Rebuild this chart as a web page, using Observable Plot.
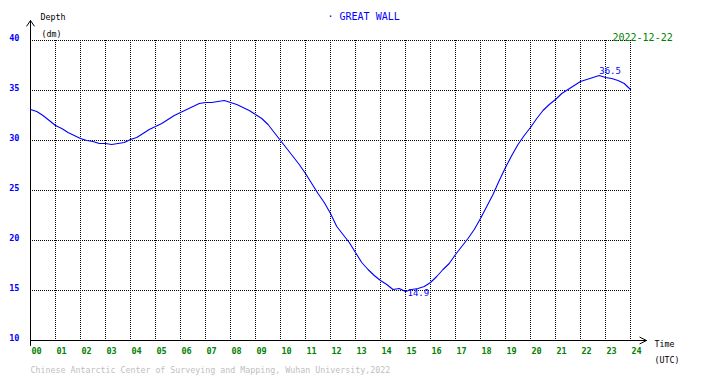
<!DOCTYPE html>
<html><head><meta charset="utf-8">
<script src="https://cdn.jsdelivr.net/npm/d3@7"></script>
<script src="https://cdn.jsdelivr.net/npm/@observablehq/plot@0.6"></script>
<style>
html,body{margin:0;padding:0;background:#fff;}
</style></head><body><div id="chart"></div>
<script>
const station = "· GREAT WALL";
const dateLabel = "2022-12-22";
const credit = "Chinese Antarctic Center of Surveying and Mapping, Wuhan University,2022";
const yAxisTitle = ["Depth", "(dm)"];
const xAxisTitle = ["Time", "(UTC)"];
const stepHours = 0.25;
// tide depth (dm), one reading every 15 minutes from 00:00 to 24:00 UTC
const depth = [
  33.1, 32.9, 32.5, 32.0, 31.5, 31.2, 30.8, 30.5,
  30.2, 30.0, 29.9, 29.7, 29.7, 29.6, 29.7, 29.8,
  30.1, 30.3, 30.7, 31.1, 31.4, 31.7, 32.1, 32.5,
  32.8, 33.1, 33.4, 33.7, 33.8, 33.8, 33.9, 34.0,
  33.8, 33.6, 33.3, 33.0, 32.6, 32.2, 31.6, 30.8,
  30.0, 29.2, 28.4, 27.6, 26.7, 25.7, 24.7, 23.8,
  22.7, 21.4, 20.6, 19.8, 18.8, 17.8, 17.1, 16.5,
  16.0, 15.6, 15.1, 15.2, 14.9, 15.1, 15.2, 15.4,
  15.8, 16.4, 17.1, 17.7, 18.6, 19.4, 20.2, 21.1,
  22.2, 23.4, 24.6, 26.0, 27.3, 28.5, 29.6, 30.5,
  31.3, 32.2, 33.0, 33.6, 34.1, 34.7, 35.1, 35.5,
  35.9, 36.1, 36.3, 36.5, 36.3, 36.2, 36.0, 35.7,
  35.1
];
const hourTicks = d3.range(0, 25);
const depthTicks = [10, 15, 20, 25, 30, 35, 40];

const data = depth.map((v, i) => ({t: i * stepHours, v}));
const peak = d3.greatest(data, d => d.v);
const low = d3.least(data, d => d.v);
const mono = "DejaVu Sans Mono";
const blue = "#0000ff", green = "#008000";
const note = (text, frameAnchor, dx, dy, fill, fontSize) =>
  Plot.text([text], {frameAnchor, dx, dy, fill, fontSize, textAnchor: "start", lineAnchor: "middle"});

const chart = Plot.plot({
  width: 710, height: 378,
  marginLeft: 30, marginRight: 80, marginTop: 40, marginBottom: 38,
  x: {domain: [0, 24]},
  y: {domain: [10, 40]},
  style: {fontFamily: mono, background: "#fff", overflow: "visible"},
  marks: [
    Plot.gridX(hourTicks.slice(1), {stroke: "#000", strokeOpacity: 1, strokeDasharray: "1,1"}),
    Plot.gridY(depthTicks.slice(1), {stroke: "#000", strokeOpacity: 1, strokeDasharray: "1,1"}),
    Plot.axisX(hourTicks, {tickSize: 0, tickPadding: 7, tickFormat: d3.format("02d"), textAnchor: "start", dx: 1,
      fill: green, fontWeight: "bold", fontSize: 8.5, label: null}),
    Plot.axisY(depthTicks, {tickSize: 0, tickPadding: 11, fill: blue, fontWeight: "bold", fontSize: 8.5, dy: -2, label: null}),
    Plot.arrow([{x1: 0, y1: 9.5, x2: 0, y2: 42}], {x1: "x1", y1: "y1", x2: "x2", y2: "y2",
      stroke: "#000", strokeWidth: 1, headAngle: 68, headLength: 10}),
    Plot.arrow([{x1: 0, y1: 10, x2: 24.64, y2: 10}], {x1: "x1", y1: "y1", x2: "x2", y2: "y2",
      stroke: "#000", strokeWidth: 1, headAngle: 53, headLength: 11}),
    Plot.line(data, {x: "t", y: "v", stroke: blue, strokeWidth: 1.1}),
    Plot.text([peak], {x: "t", y: "v", text: d => d.v.toFixed(1), textAnchor: "start", lineAnchor: "bottom",
      dy: -2, fill: blue, fontSize: 9}),
    Plot.text([low], {x: "t", y: "v", text: d => d.v.toFixed(1), textAnchor: "start", lineAnchor: "top",
      dx: 2, dy: -2, fill: blue, fontSize: 9}),
    note(station, "top-left", 297, -23.5, blue, 10),
    note(dateLabel, "top-left", 582, -3, green, 10),
    note(yAxisTitle[0], "top-left", 10, -23, "#000", 8.3),
    note(yAxisTitle[1], "top-left", 11, -6.5, "#000", 8.3),
    note(xAxisTitle[0], "bottom-right", 24, 4, "#000", 8.3),
    note(xAxisTitle[1], "bottom-right", 24, 20, "#000", 8.3),
    note(credit, "bottom-left", 0, 30, "#c0c0c0", 8.3)
  ]
});
document.getElementById("chart").appendChild(chart);
</script></body></html>
